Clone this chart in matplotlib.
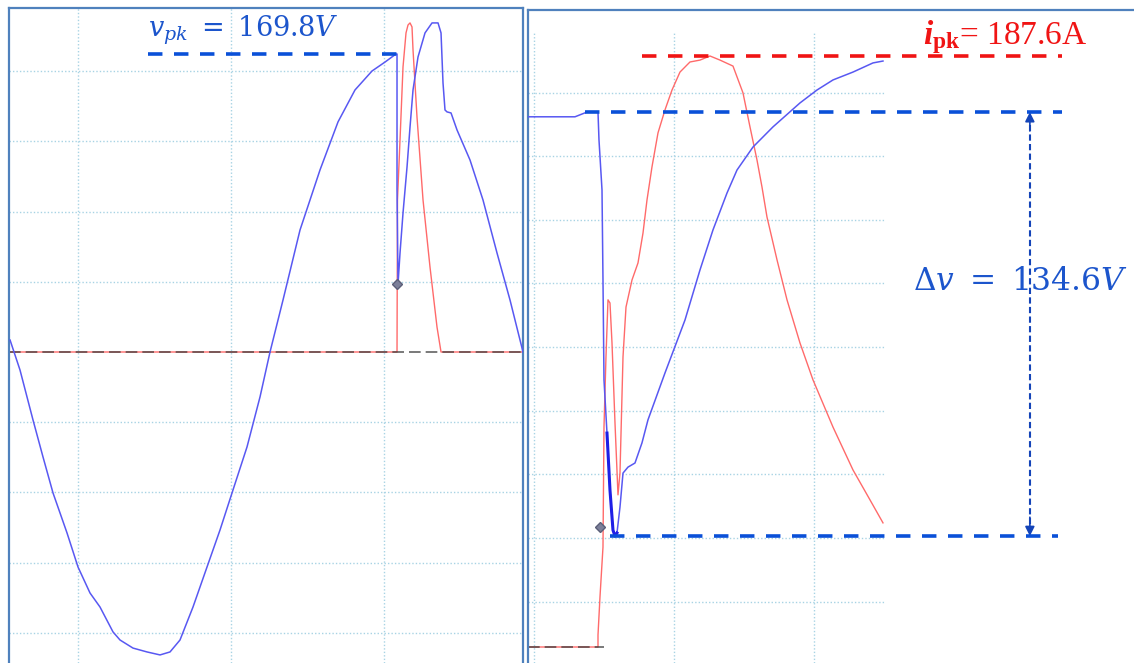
import numpy as np
import matplotlib.pyplot as plt

plt.rcParams['mathtext.fontset'] = 'custom'
plt.rcParams['mathtext.rm'] = 'Liberation Serif'
plt.rcParams['mathtext.it'] = 'Liberation Serif:italic'
plt.rcParams['mathtext.bf'] = 'Liberation Serif:bold'
plt.rcParams['mathtext.bfit'] = 'Liberation Serif:italic:bold'

# full capture: (t in ms, value in V or A)
full_v = np.array([
    (-2.22, 6.8), (-1.895, -10.3), (-1.471, -38.7), (-1.144, -59.8), (-0.817, -80.3),
    (-0.359, -103.1), (0.0, -122.5), (0.392, -137.3), (0.719, -145.3), (1.144, -159.5),
    (1.373, -164.1), (1.797, -168.7), (2.255, -170.9), (2.680, -172.6), (3.007, -170.9),
    (3.333, -164.1), (3.758, -145.3), (4.216, -122.5), (4.641, -101.4), (5.065, -78.6),
    (5.523, -54.1), (5.948, -25.6), (6.275, 0.0), (6.699, 29.6), (7.255, 69.5),
    (7.908, 103.7), (8.497, 131.1), (9.052, 149.3), (9.608, 160.1), (10.033, 165.2),
    (10.392, 169.8), (10.425, 169.8), (10.425, 92.3), (10.458, 38.7), (10.523, 56.4),
    (10.621, 79.2), (10.752, 105.4), (10.850, 128.2), (10.948, 149.3), (11.111, 168.1),
    (11.340, 181.8), (11.569, 187.5), (11.765, 187.5), (11.863, 181.8), (11.928, 153.3),
    (11.993, 137.9), (12.059, 136.8), (12.190, 136.2), (12.386, 126.5), (12.810, 109.4),
    (13.235, 86.6), (13.693, 56.4), (14.118, 29.6), (14.542, 0.0)])
full_i = np.array([
    (-2.255, 0.0), (10.425, 0.0), (10.44, 86.6), (10.523, 120.8), (10.621, 162.4),
    (10.719, 181.8), (10.784, 186.3), (10.850, 187.5), (10.915, 185.2), (10.948, 172.1),
    (11.078, 133.9), (11.275, 86.6), (11.503, 48.4), (11.732, 14.2), (11.863, 0.0),
    (14.542, 0.0)])
full_mark = (10.425, 38.7)

# zoomed capture around the strike
zoom_v = np.array([
    (-0.0214, 168.3), (0.1464, 168.3), (0.1893, 169.8), (0.2286, 169.8), (0.2321, 161.0),
    (0.2429, 145.1), (0.2464, 116.5), (0.25, 84.8), (0.2607, 67.9), (0.2714, 49.8),
    (0.2821, 37.1), (0.2893, 35.2), (0.2964, 36.2), (0.3071, 44.4), (0.3179, 55.2),
    (0.3357, 57.1), (0.3607, 58.4), (0.3857, 64.8), (0.4071, 72.1), (0.4679, 87.0),
    (0.5393, 103.8), (0.5929, 119.7), (0.6393, 132.4), (0.6893, 144.1), (0.725, 151.4),
    (0.7821, 158.7), (0.8536, 165.1), (0.95, 172.7), (1.0107, 176.8), (1.0679, 180.0),
    (1.1393, 182.5), (1.2107, 185.4), (1.2464, 186.0)])
zoom_i = np.array([
    (-0.0214, 0.0), (0.2286, 0.0), (0.2286, 3.8), (0.2357, 15.9), (0.2464, 31.7),
    (0.25, 69.8), (0.2571, 92.1), (0.2643, 110.2), (0.2714, 109.2), (0.2786, 96.5),
    (0.2893, 71.1), (0.3, 48.3), (0.3071, 55.2), (0.3179, 92.1), (0.3286, 107.9),
    (0.35, 116.5), (0.3714, 121.9), (0.3893, 131.4), (0.4036, 141.9), (0.4214, 152.4),
    (0.4429, 163.2), (0.4679, 170.5), (0.4929, 176.8), (0.5214, 182.5), (0.5571, 185.7),
    (0.5929, 186.3), (0.6286, 187.6), (0.6643, 186.3), (0.7107, 184.4), (0.7464, 175.9),
    (0.7714, 165.1), (0.7964, 154.6), (0.8143, 146.0), (0.8321, 136.5), (0.8679, 122.9),
    (0.9036, 110.2), (0.95, 96.5), (0.9964, 84.8), (1.0679, 69.8), (1.1393, 56.2),
    (1.2, 46.7), (1.2464, 39.4)])
zoom_mark = (0.2357, 38.1)

v_pk = 169.8
i_pk = 187.6
dv = 134.6
v_min = v_pk - dv

BLUE_TRACE = '#5858f2'
RED_TRACE = '#ff6a6a'
GRID = '#a8d3e4'
FRAME = '#4f81bd'
DASH_BLUE = '#0a50d8'
TXT_BLUE = '#1c55cc'
RED = '#f01414'

W, H = 1134, 663
fig = plt.figure(figsize=(W / 100, H / 100), dpi=100)
ax1 = fig.add_axes([9 / W, 0, (523 - 9) / W, (H - 8) / H])
ax2 = fig.add_axes([528 / W, 0, (W - 528) / W, (H - 10) / H])

for ax in (ax1, ax2):
    ax.set_xticks([])
    ax.set_yticks([])
    for s in ax.spines.values():
        s.set_color(FRAME)
        s.set_linewidth(1.6)
    ax.spines['bottom'].set_visible(False)
ax2.spines['right'].set_visible(False)

# --- full cycle panel ---
ax1.set_xlim(-2.255, 14.542)
ax1.set_ylim(-177.2, 196.0)
grid_kw = dict(color=GRID, lw=1.0, linestyles=(0, (1, 1.5)), zorder=0)
ax1.hlines([v for v in np.arange(-4, 5) * 40 if v != 0], -2.255, 14.542, **grid_kw)
ax1.vlines([0, 5, 10], -177.2, 196.0, **grid_kw)
ax1.plot(full_i[:, 0], full_i[:, 1], color=RED_TRACE, lw=1.0, zorder=2)
ax1.axhline(0, color='#3a3a3a', lw=1.2, dashes=(7, 3), alpha=0.8, zorder=2.5)
ax1.plot(full_v[:, 0], full_v[:, 1], color=BLUE_TRACE, lw=1.1, zorder=3)
ax1.plot(*full_mark, marker='D', ms=5, color='#7c809a', mec='#5a5e78', zorder=4)
ax1.plot([2.29, 10.425], [v_pk, v_pk], color=DASH_BLUE, lw=2.6, dashes=(4.0, 3.2),
         solid_capstyle='butt', zorder=5)
ax1.text(2.29, 180.0, r'$v_{pk}\ =\ 169.8V$', math_fontfamily='dejavuserif', fontsize=19.5,
         color=TXT_BLUE, ha='left', va='baseline')

# --- zoomed panel ---
x0, x1 = -0.0214, 2.1429
ax2.set_xlim(x0, x1)
ax2.set_ylim(-5.08, 202.2)
ax2.hlines(np.arange(14.4, 190, 20.2), x0, 1.25, **grid_kw)
ax2.vlines([0, 0.5, 1.0], -5.08, 194.9, **grid_kw)
ax2.plot(zoom_i[:, 0], zoom_i[:, 1], color=RED_TRACE, lw=1.0, zorder=2)
ax2.hlines(0, x0, 0.25, color='#3a3a3a', lw=1.2, linestyles=(0, (7, 3)), alpha=0.8, zorder=2.5)
ax2.plot(zoom_v[:, 0], zoom_v[:, 1], color=BLUE_TRACE, lw=1.1, zorder=3)
seg = (zoom_v[:, 0] >= 0.2607) & (zoom_v[:, 0] <= 0.30)
ax2.plot(zoom_v[seg, 0], zoom_v[seg, 1], color='#1e1ee6', lw=2.2, zorder=3)
ax2.plot(*zoom_mark, marker='D', ms=5, color='#7c809a', mec='#5a5e78', zorder=4)

ax2.plot([0.386, 1.886], [i_pk, i_pk], color=RED, lw=2.6, dashes=(4.0, 3.2),
         solid_capstyle='butt', zorder=5)
ax2.plot([0.182, 1.886], [v_pk, v_pk], color=DASH_BLUE, lw=2.6, dashes=(4.0, 3.2),
         solid_capstyle='butt', zorder=5)
ax2.plot([0.271, 1.871], [v_min, v_min], color=DASH_BLUE, lw=2.6, dashes=(4.0, 3.2),
         solid_capstyle='butt', zorder=5)

# delta-v arrow
xa = 1.771
ax2.plot([xa, xa], [v_min + 4, v_pk - 4], color='#1444b8', lw=1.5, dashes=(3, 1.6), zorder=5)
head = dict(arrowstyle='-|>', color='#1444b8', lw=1.2, mutation_scale=14, shrinkA=0, shrinkB=0)
ax2.annotate('', xy=(xa, v_pk), xytext=(xa, v_pk - 6), arrowprops=head)
ax2.annotate('', xy=(xa, v_min), xytext=(xa, v_min + 6), arrowprops=head)

ax2.text(1.736, 115.9, r'$\Delta v\ =\ 134.6V$', math_fontfamily='dejavuserif', fontsize=22.5,
         color=TXT_BLUE, ha='center', va='center')
ax2.text(1.389, 191.4, r'$\mathbfit{i}_{\mathbf{pk}}$= 187.6A', family='Liberation Serif',
         math_fontfamily='custom', fontsize=24, color=RED, ha='left', va='baseline')

fig.savefig('out.png', dpi=100)
